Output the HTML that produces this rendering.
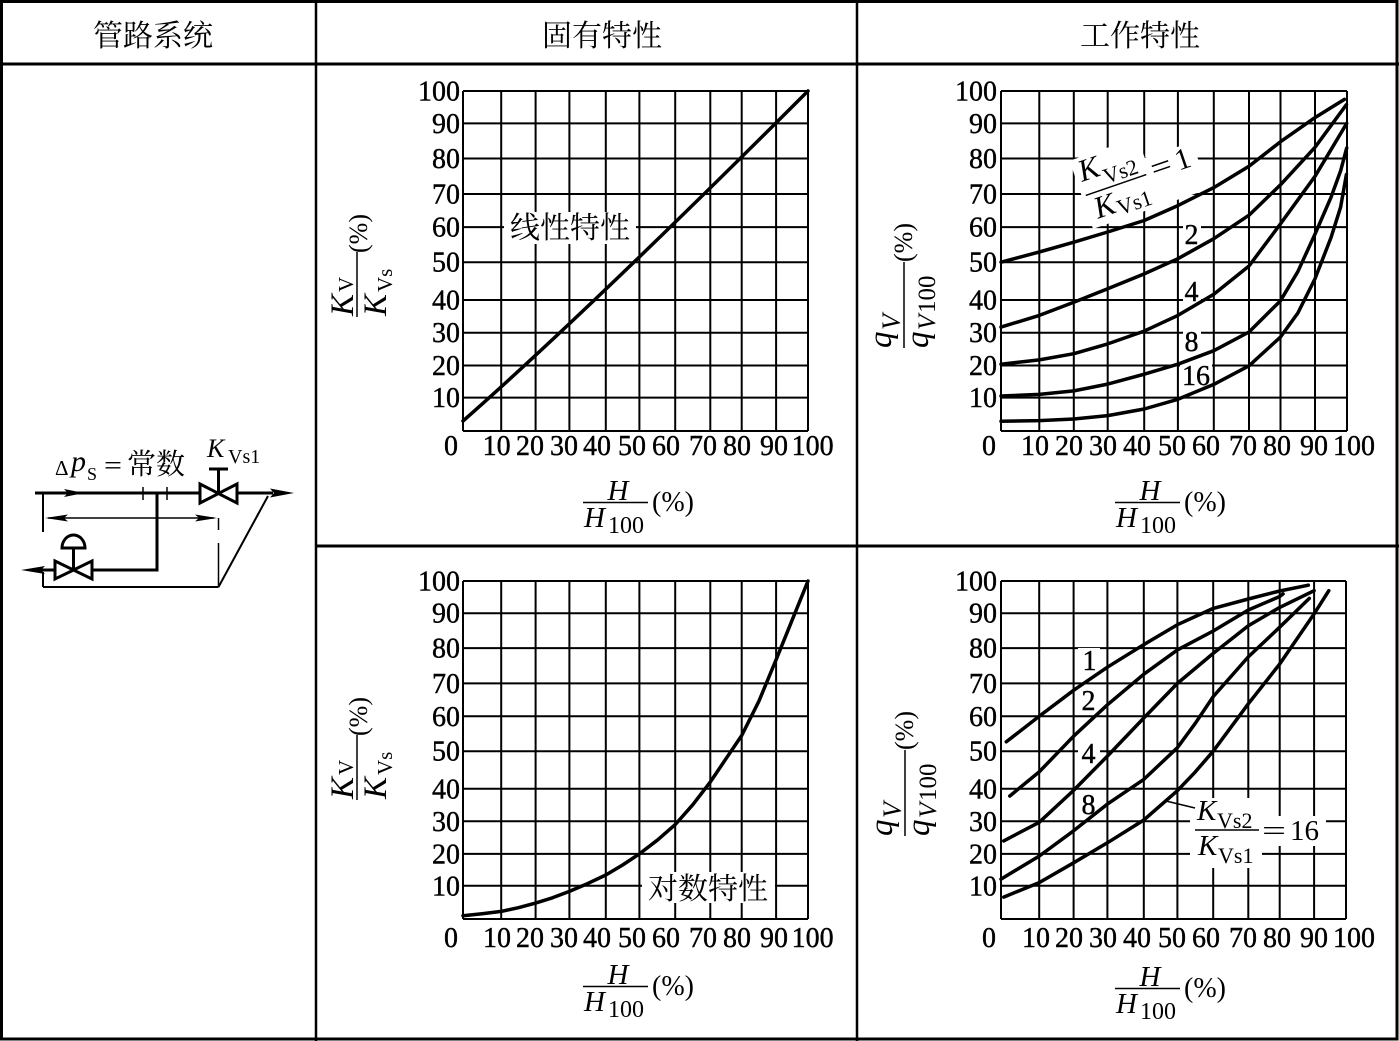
<!DOCTYPE html>
<html><head><meta charset="utf-8"><style>
html,body{margin:0;padding:0;background:#fff;}
svg{display:block;}
.t{font-family:"Liberation Serif","Noto Serif CJK SC",serif;font-size:28px;fill:#000;stroke:#000;stroke-width:0.4;}
.c{font-family:"Liberation Serif","Noto Serif CJK SC",serif;fill:#000;}
.i{font-style:italic;}
.g line{stroke:#000;stroke-width:2;}
.cv{fill:none;stroke:#000;stroke-width:3.5;stroke-linejoin:round;stroke-linecap:round;}
</style></head><body>
<svg width="1399" height="1041" viewBox="0 0 1399 1041" xmlns="http://www.w3.org/2000/svg">
<rect x="0" y="0" width="1399" height="1041" fill="#fff"/>
<!-- table -->
<rect x="1.5" y="1.5" width="1395.5" height="1037.5" fill="none" stroke="#000" stroke-width="3"/>
<line x1="0" y1="64" x2="1399" y2="64" stroke="#000" stroke-width="3"/>
<line x1="316" y1="0" x2="316" y2="1041" stroke="#000" stroke-width="2.5"/>
<line x1="857" y1="0" x2="857" y2="1041" stroke="#000" stroke-width="2.5"/>
<line x1="316" y1="546" x2="1399" y2="546" stroke="#000" stroke-width="3"/>
<text class="c" x="153" y="46" font-size="30" text-anchor="middle">管路系统</text>
<text class="c" x="602" y="46" font-size="30" text-anchor="middle">固有特性</text>
<text class="c" x="1140" y="46" font-size="30" text-anchor="middle">工作特性</text>

<!-- pipe diagram -->
<g stroke="#000" fill="none">
<line x1="35" y1="493" x2="200" y2="493" stroke-width="3"/>
<line x1="237" y1="493" x2="273" y2="493" stroke-width="3"/>
<line x1="143" y1="487" x2="143" y2="500" stroke-width="1.5"/>
<line x1="167" y1="487" x2="167" y2="500" stroke-width="1.5"/>
<path d="M200,484 L218.5,493.5 L237,484 L237,503 L218.5,493.5 L200,503 Z" fill="#fff" stroke-width="3"/>
<line x1="218.5" y1="493" x2="218.5" y2="469" stroke-width="3"/>
<line x1="209" y1="469" x2="228" y2="469" stroke-width="3"/>
<line x1="43" y1="493" x2="43" y2="532" stroke-width="2"/>
<line x1="48" y1="518" x2="214" y2="518" stroke-width="1.5"/>
<line x1="218.5" y1="518" x2="218.5" y2="530" stroke-width="1.5"/>
<line x1="218.5" y1="543" x2="218.5" y2="587" stroke-width="1.5"/>
<line x1="43" y1="587" x2="218.5" y2="587" stroke-width="2"/>
<line x1="218.5" y1="587" x2="268" y2="496" stroke-width="2"/>
<line x1="43" y1="572" x2="43" y2="587" stroke-width="2"/>
<line x1="38" y1="570" x2="55" y2="570" stroke-width="3"/>
<path d="M55,561 L73.5,570 L92,561 L92,579 L73.5,570 L55,579 Z" fill="#fff" stroke-width="3"/>
<line x1="73.5" y1="570" x2="73.5" y2="548" stroke-width="3"/>
<path d="M62,548 A11.5,13 0 0 1 85,548 Z" fill="#fff" stroke-width="3"/>
<line x1="92" y1="570" x2="157" y2="570" stroke-width="3"/>
<line x1="157" y1="571.5" x2="157" y2="491.5" stroke-width="3"/>
</g>
<g fill="#000">
<polygon points="294,493 270,488.5 274,493 270,497.5"/>
<polygon points="84,493 64,489 68,493 64,497"/>
<polygon points="45,518 68,514.5 64,518 68,521.5"/>
<polygon points="217,518 195,514.5 199,518 195,521.5"/>
<polygon points="21,570 45,566 41,570 45,574"/>
</g>
<text class="c" x="55" y="475" font-size="21">Δ</text>
<text class="c i" x="71" y="471" font-size="30">p</text>
<text class="c" x="87" y="480" font-size="18">S</text>
<text class="c" x="104" y="474" font-size="26" textLength="18" lengthAdjust="spacingAndGlyphs">=</text>
<text class="c" x="127" y="474" font-size="29">常数</text>
<text class="c i" x="207" y="457" font-size="26">K</text>
<text class="c" x="228" y="463" font-size="20">Vs1</text>

<!-- Chart A grid -->
<g class="g">
<line x1="463" y1="91" x2="463" y2="431"/><line x1="501.2" y1="91" x2="501.2" y2="431"/><line x1="535.6" y1="91" x2="535.6" y2="431"/><line x1="569.4" y1="91" x2="569.4" y2="431"/><line x1="605.8" y1="91" x2="605.8" y2="431"/><line x1="639.4" y1="91" x2="639.4" y2="431"/><line x1="675.2" y1="91" x2="675.2" y2="431"/><line x1="710.3" y1="91" x2="710.3" y2="431"/><line x1="741.7" y1="91" x2="741.7" y2="431"/><line x1="776.1" y1="91" x2="776.1" y2="431"/><line x1="808" y1="91" x2="808" y2="431"/>
<line x1="463" y1="91" x2="808" y2="91"/><line x1="463" y1="123.4" x2="808" y2="123.4"/><line x1="463" y1="158.5" x2="808" y2="158.5"/><line x1="463" y1="194" x2="808" y2="194"/><line x1="463" y1="227.1" x2="808" y2="227.1"/><line x1="463" y1="262.2" x2="808" y2="262.2"/><line x1="463" y1="300" x2="808" y2="300"/><line x1="463" y1="332.7" x2="808" y2="332.7"/><line x1="463" y1="365.5" x2="808" y2="365.5"/><line x1="463" y1="397.6" x2="808" y2="397.6"/><line x1="463" y1="431" x2="808" y2="431"/>
</g>
<!-- Chart B grid -->
<g class="g">
<line x1="1001" y1="91" x2="1001" y2="431"/><line x1="1039.3" y1="91" x2="1039.3" y2="431"/><line x1="1073.8" y1="91" x2="1073.8" y2="431"/><line x1="1107.7" y1="91" x2="1107.7" y2="431"/><line x1="1144.2" y1="91" x2="1144.2" y2="431"/><line x1="1177.9" y1="91" x2="1177.9" y2="431"/><line x1="1213.8" y1="91" x2="1213.8" y2="431"/><line x1="1249" y1="91" x2="1249" y2="431"/><line x1="1280.5" y1="91" x2="1280.5" y2="431"/><line x1="1315" y1="91" x2="1315" y2="431"/><line x1="1347" y1="91" x2="1347" y2="431"/>
<line x1="1001" y1="91" x2="1347" y2="91"/><line x1="1001" y1="123.4" x2="1347" y2="123.4"/><line x1="1001" y1="158.5" x2="1347" y2="158.5"/><line x1="1001" y1="194" x2="1347" y2="194"/><line x1="1001" y1="227.1" x2="1347" y2="227.1"/><line x1="1001" y1="262.2" x2="1347" y2="262.2"/><line x1="1001" y1="300" x2="1347" y2="300"/><line x1="1001" y1="332.7" x2="1347" y2="332.7"/><line x1="1001" y1="365.5" x2="1347" y2="365.5"/><line x1="1001" y1="397.6" x2="1347" y2="397.6"/><line x1="1001" y1="431" x2="1347" y2="431"/>
</g>
<!-- Chart C grid -->
<g class="g">
<line x1="463" y1="581" x2="463" y2="919"/><line x1="501.2" y1="581" x2="501.2" y2="919"/><line x1="535.6" y1="581" x2="535.6" y2="919"/><line x1="569.4" y1="581" x2="569.4" y2="919"/><line x1="605.8" y1="581" x2="605.8" y2="919"/><line x1="639.4" y1="581" x2="639.4" y2="919"/><line x1="675.2" y1="581" x2="675.2" y2="919"/><line x1="710.3" y1="581" x2="710.3" y2="919"/><line x1="741.7" y1="581" x2="741.7" y2="919"/><line x1="776.1" y1="581" x2="776.1" y2="919"/><line x1="808" y1="581" x2="808" y2="919"/>
<line x1="463" y1="581" x2="808" y2="581"/><line x1="463" y1="613.2" x2="808" y2="613.2"/><line x1="463" y1="648.1" x2="808" y2="648.1"/><line x1="463" y1="683.4" x2="808" y2="683.4"/><line x1="463" y1="716.3" x2="808" y2="716.3"/><line x1="463" y1="751.2" x2="808" y2="751.2"/><line x1="463" y1="788.8" x2="808" y2="788.8"/><line x1="463" y1="821.3" x2="808" y2="821.3"/><line x1="463" y1="853.9" x2="808" y2="853.9"/><line x1="463" y1="885.8" x2="808" y2="885.8"/><line x1="463" y1="919" x2="808" y2="919"/>
</g>
<!-- Chart D grid -->
<g class="g">
<line x1="1001" y1="581" x2="1001" y2="919"/><line x1="1039.2" y1="581" x2="1039.2" y2="919"/><line x1="1073.6" y1="581" x2="1073.6" y2="919"/><line x1="1107.4" y1="581" x2="1107.4" y2="919"/><line x1="1143.8" y1="581" x2="1143.8" y2="919"/><line x1="1177.4" y1="581" x2="1177.4" y2="919"/><line x1="1213.2" y1="581" x2="1213.2" y2="919"/><line x1="1248.3" y1="581" x2="1248.3" y2="919"/><line x1="1279.7" y1="581" x2="1279.7" y2="919"/><line x1="1314.1" y1="581" x2="1314.1" y2="919"/><line x1="1346" y1="581" x2="1346" y2="919"/>
<line x1="1001" y1="581" x2="1346" y2="581"/><line x1="1001" y1="613.2" x2="1346" y2="613.2"/><line x1="1001" y1="648.1" x2="1346" y2="648.1"/><line x1="1001" y1="683.4" x2="1346" y2="683.4"/><line x1="1001" y1="716.3" x2="1346" y2="716.3"/><line x1="1001" y1="751.2" x2="1346" y2="751.2"/><line x1="1001" y1="788.8" x2="1346" y2="788.8"/><line x1="1001" y1="821.3" x2="1346" y2="821.3"/><line x1="1001" y1="853.9" x2="1346" y2="853.9"/><line x1="1001" y1="885.8" x2="1346" y2="885.8"/><line x1="1001" y1="919" x2="1346" y2="919"/>
</g>

<!-- white label backgrounds -->
<g fill="#fff">
<rect x="504" y="212" width="132" height="32"/>
<rect x="642" y="872" width="133" height="31"/>
<rect x="1183" y="223" width="18" height="23"/>
<rect x="1183" y="280" width="18" height="22"/>
<rect x="1183" y="330" width="18" height="24"/>
<rect x="1180" y="363" width="32" height="25"/>
<polygon transform="translate(1116,185) rotate(-19)" points="-36,-38 36,-38 36,-16 86,-16 86,34 -36,34"/>
<rect x="1078" y="648" width="22" height="25"/>
<rect x="1078" y="690" width="22" height="23"/>
<rect x="1078" y="742" width="22" height="24"/>
<rect x="1078" y="793" width="22" height="23"/>
<rect x="1190" y="798" width="72" height="70"/>
<rect x="1260" y="816" width="66" height="30"/>
</g>

<!-- curves -->
<path class="cv" d="M463,421 Q588,311 808,91"/>
<polyline class="cv" points="463,915.7 482.1,913.7 501.2,911.4 518.4,907.7 535.6,903.1 552.5,897.8 569.4,891.4 587.6,883.6 605.8,875.0 622.6,865.0 639.4,853.9 657.3,840.2 675.2,824.6 692.8,804.7 710.3,782.0 726.0,758.7 741.7,735.5 758.9,701.2 776.1,659.7 792.1,620.2 808,581"/>

<polyline class="cv" points="1001,262.2 1039.3,252.0 1073.8,242.2 1107.7,232.0 1144.2,220.5 1177.9,205.6 1213.8,187.6 1249.0,166.3 1280.5,141.7 1315.0,117.6 1344.4,99.4"/>
<polyline class="cv" points="1001,327.1 1039.3,315.4 1073.8,302.3 1107.7,288.7 1144.2,273.9 1177.9,258.7 1213.8,238.7 1249.0,215.2 1280.5,184.8 1315.0,147.3 1346.4,104.7"/>
<polyline class="cv" points="1001,364.2 1039.3,359.9 1073.8,353.7 1107.7,343.9 1144.2,331.1 1177.9,315.4 1213.8,294.3 1249.0,266.0 1280.5,223.8 1315.0,176.3 1331.0,149.7 1346.7,123.4"/>
<polyline class="cv" points="1001,396.0 1039.3,394.4 1073.8,390.9 1107.7,384.1 1144.2,374.2 1177.9,364.2 1213.8,350.7 1249.0,332.0 1280.5,300.7 1297.8,271.7 1315.0,234.1 1331.0,197.3 1340.6,170.9 1346.7,148.0"/>
<polyline class="cv" points="1001,421.3 1039.3,420.6 1073.8,419.0 1107.7,415.6 1144.2,409.0 1177.9,399.3 1213.8,384.4 1249.0,365.8 1280.5,337.0 1297.8,313.1 1315.0,278.8 1331.0,237.6 1340.6,207.2 1346.4,174.5"/>

<polyline class="cv" points="1006.3,741.8 1039.2,716.3 1073.6,690.3 1107.4,667.2 1143.8,644.6 1177.4,624.7 1213.2,608.4 1248.3,599.0 1279.7,591.0 1308.3,585.2"/>
<polyline class="cv" points="1009.8,796.0 1039.2,771.9 1073.6,736.2 1107.4,704.8 1143.8,674.2 1177.4,649.9 1213.2,631.0 1248.3,610.0 1279.7,596.5 1283.1,593.9"/>
<polyline class="cv" points="1003.7,840.9 1039.2,822.3 1073.6,790.4 1107.4,756.1 1143.8,718.0 1177.4,683.4 1213.2,653.4 1248.3,625.8 1279.7,607.4 1314.1,590.7"/>
<polyline class="cv" points="1001,879.1 1039.2,856.1 1073.6,830.8 1107.4,804.1 1143.8,779.4 1177.4,747.7 1195.3,723.3 1213.2,696.6 1248.3,656.9 1279.7,627.2 1309.3,598.4"/>
<polyline class="cv" points="1003.7,897.1 1039.2,882.6 1073.6,862.8 1107.4,842.8 1143.8,820.0 1177.4,790.7 1195.3,771.9 1213.2,751.2 1248.3,703.8 1279.7,664.0 1314.1,613.9 1328.8,590.7"/>
<line x1="1166" y1="801" x2="1195" y2="808" stroke="#000" stroke-width="1.5"/>

<!-- in-chart labels -->
<text class="c" x="570" y="238" font-size="30" text-anchor="middle">线性特性</text>
<text class="c" x="708" y="899" font-size="30" text-anchor="middle">对数特性</text>
<g class="t" text-anchor="middle" font-size="28">
<text x="1191.5" y="244">2</text>
<text x="1191.5" y="301">4</text>
<text x="1191.5" y="351">8</text>
<text x="1196" y="385">16</text>
<text x="1089.5" y="670">1</text>
<text x="1088.5" y="710">2</text>
<text x="1088.5" y="763">4</text>
<text x="1088.5" y="814">8</text>
</g>
<g transform="translate(1116,185) rotate(-19)">
<text class="c i" x="-31" y="-14" font-size="31">K</text>
<text class="c" x="-9" y="-4" font-size="22">Vs2</text>
<line x1="-32" y1="0" x2="32" y2="0" stroke="#000" stroke-width="1.5"/>
<text class="c i" x="-28" y="26" font-size="31">K</text>
<text class="c" x="-6" y="30" font-size="22">Vs1</text>
<text class="c" x="38" y="7" font-size="30" textLength="21" lengthAdjust="spacingAndGlyphs">=</text>
<text class="c" x="64" y="7" font-size="30">1</text>
</g>
<text class="c i" x="1197" y="820" font-size="29">K</text>
<text class="c" x="1217" y="828" font-size="22">Vs2</text>
<line x1="1195" y1="830" x2="1259" y2="830" stroke="#000" stroke-width="1.5"/>
<text class="c i" x="1198" y="855" font-size="29">K</text>
<text class="c" x="1218" y="863" font-size="22">Vs1</text>
<text class="c" x="1262" y="840" font-size="28" textLength="24" lengthAdjust="spacingAndGlyphs">=</text>
<text class="c" x="1290" y="840" font-size="29">16</text>

<!-- tick labels -->
<g class="t" text-anchor="end">
<text x="460" y="100.5">100</text><text x="460" y="132.9">90</text><text x="460" y="168">80</text><text x="460" y="203.5">70</text><text x="460" y="236.6">60</text><text x="460" y="271.7">50</text><text x="460" y="309.5">40</text><text x="460" y="342.2">30</text><text x="460" y="375">20</text><text x="460" y="407.1">10</text>
<text x="997" y="100.5">100</text><text x="997" y="132.9">90</text><text x="997" y="168">80</text><text x="997" y="203.5">70</text><text x="997" y="236.6">60</text><text x="997" y="271.7">50</text><text x="997" y="309.5">40</text><text x="997" y="342.2">30</text><text x="997" y="375">20</text><text x="997" y="407.1">10</text>
<text x="460" y="590.5">100</text><text x="460" y="622.7">90</text><text x="460" y="657.6">80</text><text x="460" y="692.9">70</text><text x="460" y="725.8">60</text><text x="460" y="760.7">50</text><text x="460" y="798.3">40</text><text x="460" y="830.8">30</text><text x="460" y="863.4">20</text><text x="460" y="895.3">10</text>
<text x="997" y="590.5">100</text><text x="997" y="622.7">90</text><text x="997" y="657.6">80</text><text x="997" y="692.9">70</text><text x="997" y="725.8">60</text><text x="997" y="760.7">50</text><text x="997" y="798.3">40</text><text x="997" y="830.8">30</text><text x="997" y="863.4">20</text><text x="997" y="895.3">10</text>
</g>
<g class="t" text-anchor="middle">
<text x="451" y="455">0</text><text x="496.6" y="455">10</text><text x="530" y="455">20</text><text x="564" y="455">30</text><text x="597" y="455">40</text><text x="632" y="455">50</text><text x="666" y="455">60</text><text x="703" y="455">70</text><text x="737" y="455">80</text><text x="774" y="455">90</text><text x="812.6" y="455">100</text>
<text x="989" y="455">0</text><text x="1035" y="455">10</text><text x="1069" y="455">20</text><text x="1103" y="455">30</text><text x="1137" y="455">40</text><text x="1172" y="455">50</text><text x="1206" y="455">60</text><text x="1243" y="455">70</text><text x="1277" y="455">80</text><text x="1314" y="455">90</text><text x="1354" y="455">100</text>
<text x="451" y="947">0</text><text x="497" y="947">10</text><text x="530" y="947">20</text><text x="564" y="947">30</text><text x="597" y="947">40</text><text x="632" y="947">50</text><text x="666" y="947">60</text><text x="703" y="947">70</text><text x="737" y="947">80</text><text x="774" y="947">90</text><text x="812.6" y="947">100</text>
<text x="989" y="947">0</text><text x="1036" y="947">10</text><text x="1069" y="947">20</text><text x="1103" y="947">30</text><text x="1137" y="947">40</text><text x="1172" y="947">50</text><text x="1206" y="947">60</text><text x="1243" y="947">70</text><text x="1277" y="947">80</text><text x="1314" y="947">90</text><text x="1354" y="947">100</text>
</g>

<!-- x axis labels -->
<g>
<text class="c i" x="618" y="500" font-size="29" text-anchor="middle">H</text>
<line x1="583" y1="502.5" x2="648" y2="502.5" stroke="#000" stroke-width="1.5"/>
<text class="c i" x="584" y="527" font-size="29">H</text>
<text class="c" x="608" y="533" font-size="24">100</text>
<text class="c" x="652" y="511" font-size="28">(%)</text>
</g>
<g transform="translate(532,0)">
<text class="c i" x="618" y="500" font-size="29" text-anchor="middle">H</text>
<line x1="583" y1="502.5" x2="648" y2="502.5" stroke="#000" stroke-width="1.5"/>
<text class="c i" x="584" y="527" font-size="29">H</text>
<text class="c" x="608" y="533" font-size="24">100</text>
<text class="c" x="652" y="511" font-size="28">(%)</text>
</g>
<g transform="translate(0,484)">
<text class="c i" x="618" y="500" font-size="29" text-anchor="middle">H</text>
<line x1="583" y1="502.5" x2="648" y2="502.5" stroke="#000" stroke-width="1.5"/>
<text class="c i" x="584" y="527" font-size="29">H</text>
<text class="c" x="608" y="533" font-size="24">100</text>
<text class="c" x="652" y="511" font-size="28">(%)</text>
</g>
<g transform="translate(532,486)">
<text class="c i" x="618" y="500" font-size="29" text-anchor="middle">H</text>
<line x1="583" y1="502.5" x2="648" y2="502.5" stroke="#000" stroke-width="1.5"/>
<text class="c i" x="584" y="527" font-size="29">H</text>
<text class="c" x="608" y="533" font-size="24">100</text>
<text class="c" x="652" y="511" font-size="28">(%)</text>
</g>

<!-- y axis labels -->
<g transform="translate(357,317) rotate(-90)">
<text class="c i" x="1" y="-4" font-size="33">K</text>
<text class="c" x="25" y="-4" font-size="21">V</text>
<line x1="0" y1="0" x2="65" y2="0" stroke="#000" stroke-width="1.5"/>
<text class="c i" x="1" y="29" font-size="33">K</text>
<text class="c" x="25" y="35" font-size="21">Vs</text>
<text class="c" x="64" y="10" font-size="26">(%)</text>
</g>
<g transform="translate(357,800) rotate(-90)">
<text class="c i" x="1" y="-4" font-size="33">K</text>
<text class="c" x="25" y="-4" font-size="21">V</text>
<line x1="0" y1="0" x2="65" y2="0" stroke="#000" stroke-width="1.5"/>
<text class="c i" x="1" y="29" font-size="33">K</text>
<text class="c" x="25" y="35" font-size="21">Vs</text>
<text class="c" x="64" y="10" font-size="26">(%)</text>
</g>
<g transform="translate(904,348) rotate(-90)">
<text class="c i" x="0" y="-13" font-size="33">q</text>
<text class="c i" x="18" y="-4" font-size="26">V</text>
<line x1="0" y1="0" x2="86" y2="0" stroke="#000" stroke-width="1.5"/>
<text class="c i" x="0" y="24" font-size="33">q</text>
<text class="c i" x="18" y="31" font-size="25">V</text>
<text class="c" x="35" y="31" font-size="25">100</text>
<text class="c" x="86" y="8" font-size="26">(%)</text>
</g>
<g transform="translate(905,836) rotate(-90)">
<text class="c i" x="0" y="-13" font-size="33">q</text>
<text class="c i" x="18" y="-4" font-size="26">V</text>
<line x1="0" y1="0" x2="86" y2="0" stroke="#000" stroke-width="1.5"/>
<text class="c i" x="0" y="24" font-size="33">q</text>
<text class="c i" x="18" y="31" font-size="25">V</text>
<text class="c" x="35" y="31" font-size="25">100</text>
<text class="c" x="86" y="8" font-size="26">(%)</text>
</g>
</svg>
</body></html>
